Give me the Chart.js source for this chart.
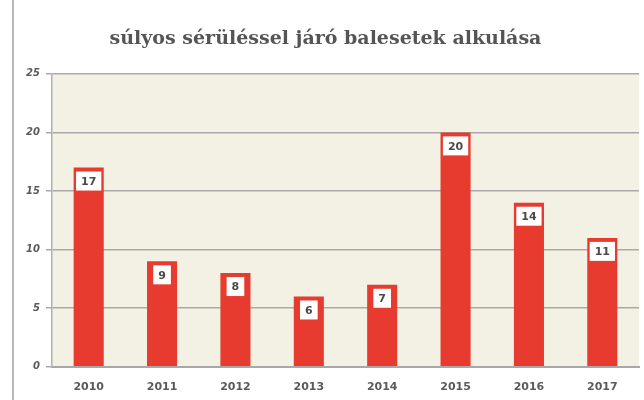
<!DOCTYPE html>
<html><head><meta charset="utf-8">
<script src="https://cdn.jsdelivr.net/npm/chart.js@4"></script>
<style>html,body{margin:0;padding:0;background:#fff}#w{width:644px;height:400px}</style>
</head><body><div id="w"><canvas id="c"></canvas></div>
<script>
const categories = ['2010','2011','2012','2013','2014','2015','2016','2017'];
const values = [17, 9, 8, 6, 7, 20, 14, 11];
const yTicks = [0, 5, 10, 15, 20, 25];
const titleText = 'súlyos sérüléssel járó balesetek alkulása';

const plotBg = {
  id:'plotBg',
  beforeDraw(chart){
    const {ctx, chartArea:a} = chart;
    ctx.save();
    ctx.fillStyle='#f3f1e4';
    ctx.fillRect(a.left, a.top, a.right-a.left, a.bottom-a.top);
    ctx.strokeStyle='#b8b8b8'; ctx.lineWidth=2;
    ctx.beginPath(); ctx.moveTo(13,0); ctx.lineTo(13,400); ctx.stroke();
    ctx.restore();
  }
};
const boxLabels = {
  id:'boxLabels',
  afterDatasetsDraw(chart){
    const {ctx} = chart;
    const meta = chart.getDatasetMeta(0);
    ctx.save();
    ctx.font = 'bold 11px "DejaVu Sans"';
    ctx.textAlign='center'; ctx.textBaseline='middle';
    meta.data.forEach((bar,i)=>{
      const t = String(values[i]);
      const w = ctx.measureText(t).width + 10;
      const h = 19;
      const x = bar.x - w/2, y = bar.y + 4;
      ctx.fillStyle='#ffffff';
      ctx.fillRect(x, y, w, h);
      ctx.fillStyle='#4a4a4a';
      ctx.fillText(t, bar.x, y + h/2 + 1);
    });
    ctx.restore();
  }
};

new Chart(document.getElementById('c'), {
  type:'bar',
  data:{labels:categories, datasets:[{data:values, backgroundColor:'#e63b2e', borderWidth:0,
    barPercentage:0.41, categoryPercentage:1}]},
  options:{
    responsive:true, maintainAspectRatio:false, animation:false,
    layout:{padding:{left:12, right:5, top:28, bottom:0}},
    plugins:{
      legend:{display:false}, tooltip:{enabled:false},
      title:{display:true, text:titleText, color:'#555555',
        font:{family:'"DejaVu Serif"', size:19, weight:'bold'}, padding:{top:0,bottom:23}}
    },
    scales:{
      x:{grid:{display:false}, border:{color:'#a8a8a8', width:2},
        ticks:{color:'#5a5a5a', font:{family:'"DejaVu Sans"', size:11, weight:'bold'}, padding:6}},
      y:{min:0, max:25, afterBuildTicks(s){ s.ticks = yTicks.map(v=>({value:v})); },
        afterFit(s){ s.width = 40; },
        grid:{color:'#a9a9a9', lineWidth:1.5, drawTicks:true, tickLength:6},
        border:{color:'#b0b0b0', width:1.5},
        ticks:{color:'#5a5a5a', font:{family:'"DejaVu Sans"', size:10, weight:'bold', style:'italic'}, padding:6}}
    }
  },
  plugins:[plotBg, boxLabels]
});
</script></body></html>
